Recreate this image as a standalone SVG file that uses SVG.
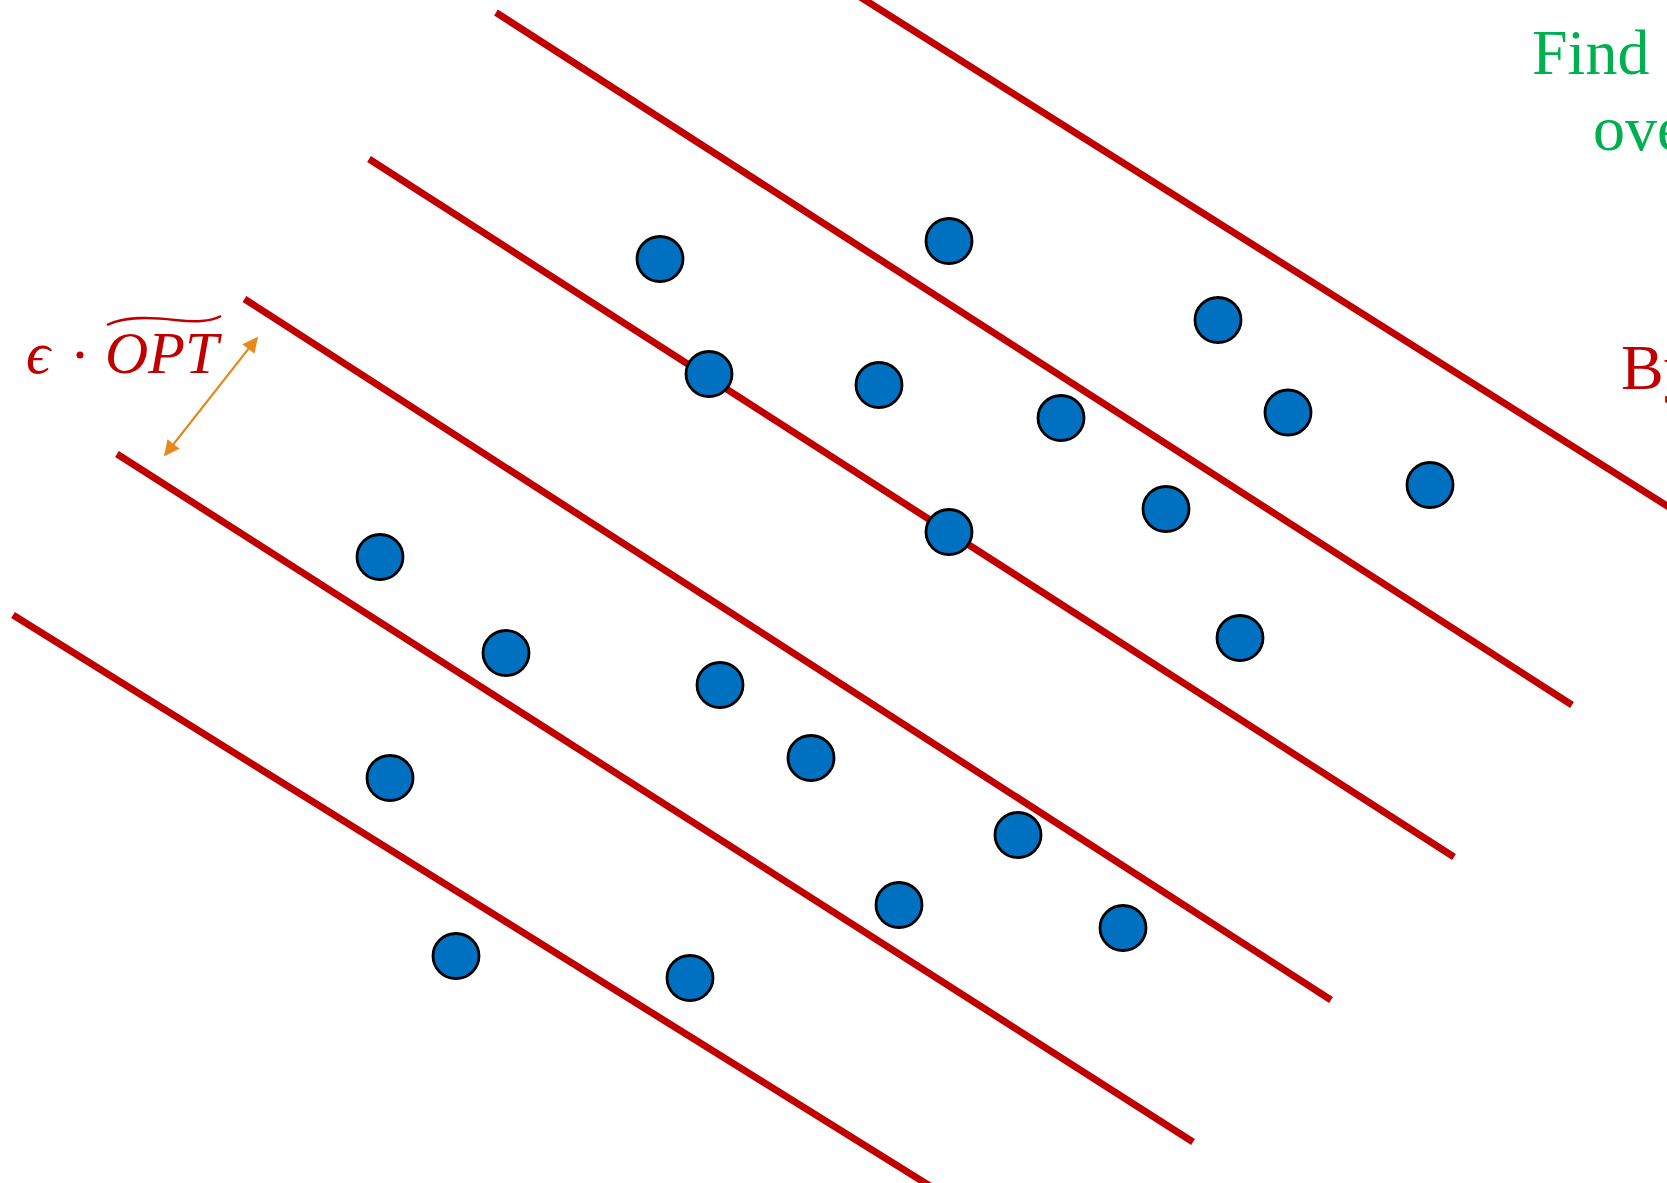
<svg xmlns="http://www.w3.org/2000/svg" width="1667" height="1183" viewBox="0 0 1667 1183">
<style>
.ln{stroke:#C00000;stroke-width:7;fill:none}
.dot{fill:#0070C0;stroke:#000;stroke-width:2.8}
.g{font-family:"Liberation Serif","Times New Roman",serif;font-size:64px;fill:#00B050}
.r{font-family:"Liberation Serif","Times New Roman",serif;font-size:64px;fill:#C00000}
.m{font-family:"Liberation Serif","DejaVu Serif",serif;font-style:italic;font-size:60px;fill:#C00000}
</style>
<defs>
<marker id="ah" viewBox="0 0 10 10" refX="9" refY="5" markerWidth="7.5" markerHeight="7" orient="auto-start-reverse" markerUnits="strokeWidth">
<path d="M0,0 L10,5 L0,10 z" fill="#E6891A"/>
</marker>
</defs>
<g id="lines">
<line class="ln" x1="857" y1="-5" x2="1680" y2="514"/>
<line class="ln" x1="496" y1="12.5" x2="1572" y2="705"/>
<line class="ln" x1="369" y1="159" x2="1454" y2="857"/>
<line class="ln" x1="244.5" y1="299" x2="1331" y2="1000"/>
<line class="ln" x1="117" y1="454" x2="1193" y2="1142"/>
<line class="ln" x1="13" y1="615" x2="930" y2="1186"/>
</g>
<g id="connectors">
<line x1="165" y1="455" x2="257" y2="338" stroke="#E6891A" stroke-width="2.2" marker-start="url(#ah)" marker-end="url(#ah)"/>
</g>
<g id="p1"><ellipse class="dot" cx="660" cy="259" rx="23" ry="22.5"/></g>
<g id="p2"><ellipse class="dot" cx="949" cy="241" rx="23" ry="22.5"/></g>
<g id="p3"><ellipse class="dot" cx="1218" cy="320" rx="23" ry="22.5"/></g>
<g id="p4"><ellipse class="dot" cx="709" cy="374" rx="23" ry="22.5"/></g>
<g id="p5"><ellipse class="dot" cx="879" cy="385" rx="23" ry="22.5"/></g>
<g id="p6"><ellipse class="dot" cx="1061" cy="418" rx="23" ry="22.5"/></g>
<g id="p7"><ellipse class="dot" cx="1288" cy="412.5" rx="23" ry="22.5"/></g>
<g id="p8"><ellipse class="dot" cx="1430" cy="485" rx="23" ry="22.5"/></g>
<g id="p9"><ellipse class="dot" cx="1166" cy="509" rx="23" ry="22.5"/></g>
<g id="p10"><ellipse class="dot" cx="949" cy="532" rx="23" ry="22.5"/></g>
<g id="p11"><ellipse class="dot" cx="1240" cy="638" rx="23" ry="22.5"/></g>
<g id="p12"><ellipse class="dot" cx="380" cy="557" rx="23" ry="22.5"/></g>
<g id="p13"><ellipse class="dot" cx="506" cy="653" rx="23" ry="22.5"/></g>
<g id="p14"><ellipse class="dot" cx="720" cy="685" rx="23" ry="22.5"/></g>
<g id="p15"><ellipse class="dot" cx="811" cy="758" rx="23" ry="22.5"/></g>
<g id="p16"><ellipse class="dot" cx="390" cy="778" rx="23" ry="22.5"/></g>
<g id="p17"><ellipse class="dot" cx="1018" cy="835" rx="23" ry="22.5"/></g>
<g id="p18"><ellipse class="dot" cx="899" cy="905" rx="23" ry="22.5"/></g>
<g id="p19"><ellipse class="dot" cx="1123" cy="928" rx="23" ry="22.5"/></g>
<g id="p20"><ellipse class="dot" cx="456" cy="956" rx="23" ry="22.5"/></g>
<g id="p21"><ellipse class="dot" cx="690" cy="978" rx="23" ry="22.5"/></g>
<g id="label-find">
<text class="g" x="1532" y="74">Find a</text>
<text class="g" x="1593" y="150">over</text>
</g>
<g id="label-b"><text class="r" x="1621" y="389">By</text></g>
<g id="label-eps">
<text class="m" x="26" y="373">ϵ</text>
<circle cx="80" cy="355" r="3.5" fill="#C00000"/>
<text class="m" x="105" y="373">OPT</text>
<path d="M107,325 C125,316 150,317 175,320 C195,322 210,322 221,316" fill="none" stroke="#C00000" stroke-width="2.5"/>
</g>
</svg>
